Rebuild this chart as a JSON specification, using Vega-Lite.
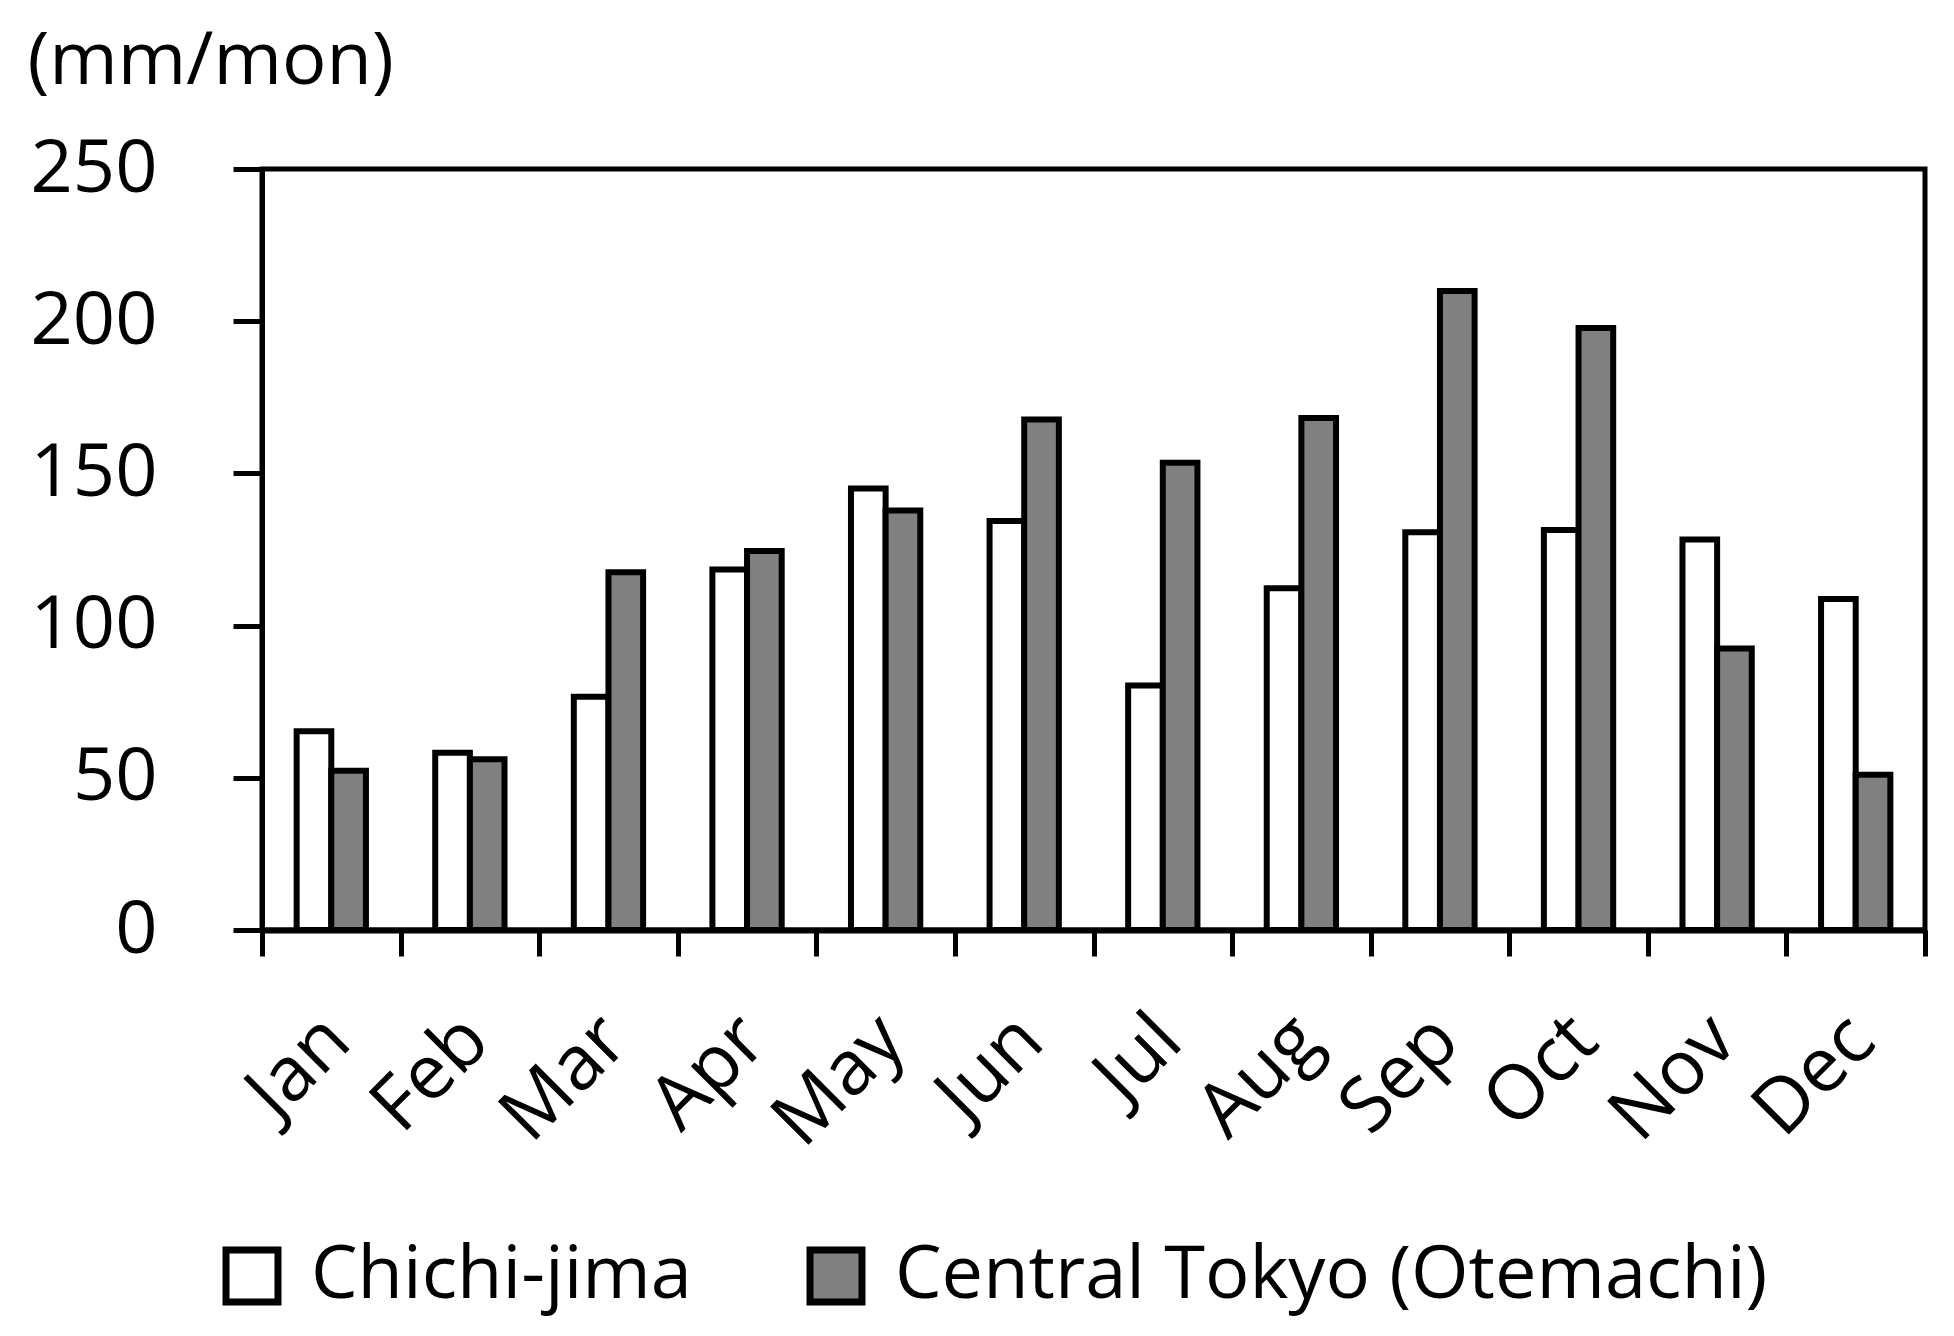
{
  "$schema": "https://vega.github.io/schema/vega-lite/v6.json",
  "autosize": "none",
  "width": 1663,
  "height": 761,
  "padding": {"left": 262, "top": 169, "right": 29, "bottom": 406},
  "background": "white",
  "config": {
    "font": "Open Sans",
    "view": {"stroke": "black", "strokeWidth": 5}
  },
  "data": {
    "values": [
      {"month": "Jan", "series": "Chichi-jima", "value": 65.3},
      {"month": "Jan", "series": "Central Tokyo (Otemachi)", "value": 52.3},
      {"month": "Feb", "series": "Chichi-jima", "value": 58.2},
      {"month": "Feb", "series": "Central Tokyo (Otemachi)", "value": 56.1},
      {"month": "Mar", "series": "Chichi-jima", "value": 76.6},
      {"month": "Mar", "series": "Central Tokyo (Otemachi)", "value": 117.5},
      {"month": "Apr", "series": "Chichi-jima", "value": 118.4},
      {"month": "Apr", "series": "Central Tokyo (Otemachi)", "value": 124.5},
      {"month": "May", "series": "Chichi-jima", "value": 145.0},
      {"month": "May", "series": "Central Tokyo (Otemachi)", "value": 137.8},
      {"month": "Jun", "series": "Chichi-jima", "value": 134.4},
      {"month": "Jun", "series": "Central Tokyo (Otemachi)", "value": 167.7},
      {"month": "Jul", "series": "Chichi-jima", "value": 80.3},
      {"month": "Jul", "series": "Central Tokyo (Otemachi)", "value": 153.5},
      {"month": "Aug", "series": "Chichi-jima", "value": 112.3},
      {"month": "Aug", "series": "Central Tokyo (Otemachi)", "value": 168.2},
      {"month": "Sep", "series": "Chichi-jima", "value": 130.7},
      {"month": "Sep", "series": "Central Tokyo (Otemachi)", "value": 209.9},
      {"month": "Oct", "series": "Chichi-jima", "value": 131.4},
      {"month": "Oct", "series": "Central Tokyo (Otemachi)", "value": 197.8},
      {"month": "Nov", "series": "Chichi-jima", "value": 128.3},
      {"month": "Nov", "series": "Central Tokyo (Otemachi)", "value": 92.5},
      {"month": "Dec", "series": "Chichi-jima", "value": 108.7},
      {"month": "Dec", "series": "Central Tokyo (Otemachi)", "value": 51.0}
    ]
  },
  "mark": {"type": "bar", "stroke": "black", "strokeWidth": 6},
  "encoding": {
    "x": {
      "field": "month",
      "type": "nominal",
      "sort": ["Jan","Feb","Mar","Apr","May","Jun","Jul","Aug","Sep","Oct","Nov","Dec"],
      "scale": {"paddingInner": 0, "paddingOuter": 0},
      "axis": {
        "title": null,
        "tickBand": "extent",
        "tickSize": 26,
        "tickWidth": 5,
        "tickColor": "black",
        "domainColor": "black",
        "domainWidth": 6,
        "labelAngle": -45,
        "labelAlign": "right",
        "labelBaseline": "middle",
        "labelFontSize": 76,
        "labelColor": "black",
        "labelPadding": 72,
        "labelOffset": 6
      }
    },
    "xOffset": {
      "field": "series",
      "type": "nominal",
      "sort": ["Chichi-jima", "Central Tokyo (Otemachi)"],
      "scale": {"paddingInner": 0, "paddingOuter": 1.1}
    },
    "y": {
      "field": "value",
      "type": "quantitative",
      "scale": {"domain": [0, 250], "nice": false},
      "axis": {
        "values": [0, 50, 100, 150, 200, 250],
        "grid": false,
        "tickSize": 29,
        "tickWidth": 5,
        "tickColor": "black",
        "domainColor": "black",
        "domainWidth": 5,
        "labelFontSize": 74,
        "labelColor": "black",
        "labelPadding": 76,
        "title": "(mm/mon)",
        "titleAngle": 0,
        "titleAlign": "left",
        "titleBaseline": "alphabetic",
        "titleX": -235,
        "titleY": -86,
        "titleFontSize": 74,
        "titleFontWeight": "normal",
        "titleColor": "black"
      }
    },
    "fill": {
      "field": "series",
      "type": "nominal",
      "sort": ["Chichi-jima", "Central Tokyo (Otemachi)"],
      "scale": {"domain": ["Chichi-jima", "Central Tokyo (Otemachi)"], "range": ["#ffffff", "#808080"]},
      "legend": {
        "title": null,
        "orient": "none",
        "direction": "horizontal",
        "legendX": -47,
        "legendY": 1070,
        "symbolType": "square",
        "symbolSize": 2700,
        "symbolStrokeColor": "black",
        "symbolStrokeWidth": 7,
        "symbolOpacity": 1,
        "labelFontSize": 74,
        "labelColor": "black",
        "labelOffset": 22,
        "columnPadding": 104,
        "labelLimit": 2000
      }
    }
  }
}
